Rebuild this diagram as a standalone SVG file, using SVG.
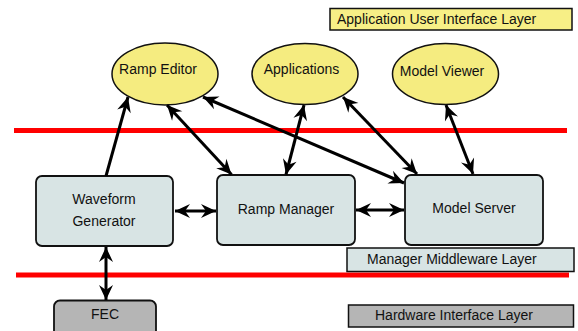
<svg xmlns="http://www.w3.org/2000/svg" width="578" height="331" viewBox="0 0 578 331">
<defs>
<style>
text{font-family:"Liberation Sans",Arial,sans-serif;font-size:14px;fill:#111}
.mid{text-anchor:middle}
.ell{fill:#f5ec80;stroke:#111;stroke-width:1.5}
.box{fill:#d8e4e4;stroke:#111;stroke-width:1.8}
.fec{fill:#b5b5b5;stroke:#111;stroke-width:1.8}
.lay-y{fill:#f7ef86;stroke:#111;stroke-width:1.5}
.lay-b{fill:#d8e4e4;stroke:#111;stroke-width:1.5}
.lay-g{fill:#b5b5b5;stroke:#111;stroke-width:1.5}
.red{stroke:#ff0000;stroke-width:5}
.c{stroke:#000;stroke-width:3;fill:none;marker-end:url(#ah)}
.d{marker-start:url(#ah)}
</style>
<marker id="ah" markerUnits="userSpaceOnUse" viewBox="-16 -9 17 18" refX="0" refY="0" markerWidth="17" markerHeight="18" orient="auto-start-reverse">
<path d="M0,0 L-15,-7 L-10,0 L-15,7 Z" fill="#000"/>
</marker>
</defs>
<rect width="578" height="331" fill="#fff"/>
<g id="layers">
<line class="red" x1="14" y1="130.5" x2="567" y2="130.5"/>
<line class="red" x1="16" y1="275" x2="569" y2="275"/>
<g id="layer-app"><rect class="lay-y" x="330" y="8.5" width="242" height="21.5"/><text x="337" y="23.5">Application User Interface Layer</text></g>
<g id="layer-mw"><rect class="lay-b" x="347" y="248" width="227" height="23.5"/><text x="367" y="264">Manager Middleware Layer</text></g>
<g id="layer-hw"><rect class="lay-g" x="348.5" y="305" width="225" height="22"/><text x="375" y="320">Hardware Interface Layer</text></g>
</g>
<g id="ramp-editor"><ellipse class="ell" cx="165" cy="74" rx="53" ry="31"/><text class="mid" x="158" y="74">Ramp Editor</text></g>
<g id="applications"><ellipse class="ell" cx="305" cy="74" rx="53" ry="30.5"/><text class="mid" x="301.5" y="74">Applications</text></g>
<g id="model-viewer"><ellipse class="ell" cx="445.5" cy="74" rx="53" ry="30.5"/><text class="mid" x="442" y="76">Model Viewer</text></g>
<g id="waveform-generator"><rect class="box" x="36" y="176" width="137" height="70" rx="6"/><text class="mid" x="104" y="204">Waveform</text><text class="mid" x="104" y="226">Generator</text></g>
<g id="ramp-manager"><rect class="box" x="217" y="175" width="138" height="70" rx="6"/><text class="mid" x="286" y="214">Ramp Manager</text></g>
<g id="model-server"><rect class="box" x="405" y="175" width="138" height="70" rx="6"/><text class="mid" x="474" y="213">Model Server</text></g>
<g id="fec"><rect class="fec" x="54" y="300.5" width="102" height="40" rx="6"/><text class="mid" x="105" y="319">FEC</text></g>
<g id="connectors">
<line class="c" x1="106" y1="176" x2="128" y2="97"/>
<line class="c d" x1="167" y1="105" x2="231.5" y2="174.5"/>
<line class="c d" x1="203" y1="97" x2="404" y2="183"/>
<line class="c d" x1="304" y1="105" x2="286" y2="174.5"/>
<line class="c d" x1="343" y1="97" x2="417" y2="174"/>
<line class="c d" x1="446" y1="105" x2="473" y2="174"/>
<line class="c d" x1="175" y1="211" x2="216" y2="211"/>
<line class="c d" x1="356" y1="210" x2="404" y2="210"/>
<line class="c d" x1="106" y1="247" x2="106" y2="300"/>
</g>
</svg>
